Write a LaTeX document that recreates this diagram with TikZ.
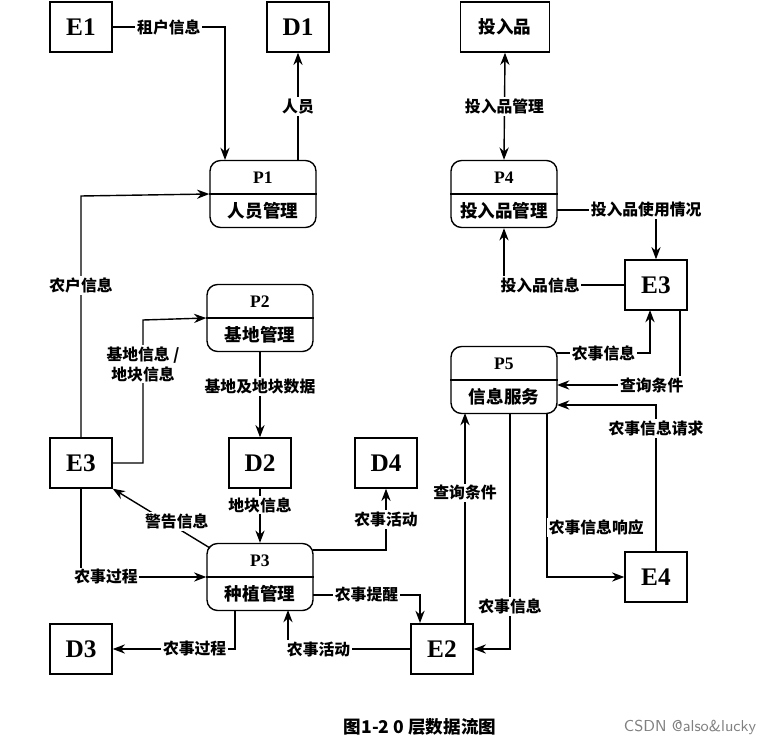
\documentclass[tikz,border=0pt]{standalone}
\usepackage{fontspec}
\setmainfont{Liberation Serif}
\newfontfamily\cjk{Noto Sans CJK SC}
\usetikzlibrary{arrows.meta}
\tikzset{
	ent/.style={draw, thick, minimum width=1.24cm, minimum height=1cm, font=\Large\bfseries},
	proc/.style={draw, thick, rounded corners=6pt, minimum width=2.12cm, minimum height=1.34cm},
	flow/.style={thick, -{Stealth[length=7pt]}},
	lbl/.style={fill=white, inner sep=1pt, font=\cjk\bfseries\small}
}
\newcommand{\proc}[4]{% name, x, y, title
	\node[proc] (#1) at (#2,#3) {};
	\draw[thick] (#1.west) -- (#1.east);
	\node[font=\bfseries] at ([yshift=0.33cm]#1.center) {#1};
	\node[font=\cjk\bfseries] at ([yshift=-0.33cm]#1.center) {#4};
}
\begin{document}
\begin{tikzpicture}[x=0.02cm, y=-0.02cm]
	\useasboundingbox (0,0) rectangle (757,743);
	% entities and stores
	\node[ent] (E1) at (81,27) {E1};
	\node[ent] (D1) at (298,27) {D1};
	\node[ent, minimum width=1.78cm, font=\cjk\bfseries] (IN) at (505,27) {投入品};
	\node[ent] (E3r) at (656,285) {E3};
	\node[ent] (E3l) at (81,463) {E3};
	\node[ent] (D2) at (260,463) {D2};
	\node[ent] (D4) at (386,463) {D4};
	\node[ent] (E4) at (656,577) {E4};
	\node[ent] (D3) at (81,649) {D3};
	\node[ent] (E2) at (442,649) {E2};
	% processes
	\proc{P1}{263}{194}{人员管理}
	\proc{P4}{504}{194}{投入品管理}
	\proc{P2}{260}{318}{基地管理}
	\proc{P5}{504}{380}{信息服务}
	\proc{P3}{260}{577}{种植管理}
	% flows
	\draw[flow] (E1.east) -- node[lbl] {租户信息} (225,27) -- (225,160);
	\draw[flow] (298,160) -- node[lbl] {人员} (D1.south);
	\draw[flow] (E3l.north) -- node[lbl, pos=0.63] {农户信息} (81,196) -- (P1.west);
	\draw[flow] (E3l.east) -- (143,463) -- node[lbl, pos=0.69, align=center] {基地信息 /\\地块信息} (143,320) -- (P2.west);
	\draw[flow] (P2.south) -- node[lbl, pos=0.4] {基地及地块数据} (D2.north);
	\draw[flow] (D2.south) -- node[lbl, pos=0.3] {地块信息} (P3.north);
	\draw[flow] (210,548) -- node[lbl, pos=0.45, xshift=6pt] {警告信息} (E3l.south east);
	\draw[flow] (E3l.south) -- (81,577) -- node[lbl, pos=0.2] {农事过程} (P3.west);
	\draw[flow] (313,550) -- (386,550) -- node[lbl] {农事活动} (D4.south);
	\draw[flow] (313,595) -- node[lbl] {农事提醒} (420,595) -- (420,623);
	\draw[flow] (235,610) -- (235,649) -- node[lbl, pos=0.33] {农事过程} (D3.east);
	\draw[flow] (E2.west) -- node[lbl, pos=0.75] {农事活动} (288,649) -- (288,610);
	\draw[flow] (465,623) -- node[lbl, pos=0.62] {查询条件} (465,413);
	\draw[flow] (510,413) -- node[lbl, pos=0.82] {农事信息} (510,649) -- (E2.east);
	\draw[flow] (547,413) -- node[lbl, pos=0.7, xshift=28pt] {农事信息响应} (547,577) -- (E4.west);
	\draw[flow] (E4.north) -- node[lbl, pos=0.84] {农事信息请求} (656,405) -- (557,405);
	\draw[flow] (680,310) -- (680,385) -- node[lbl, pos=0.23] {查询条件} (557,385);
	\draw[flow] (557,353) -- node[lbl] {农事信息} (650,353) -- (650,310);
	\draw[flow] (557,210) -- node[lbl, pos=0.9] {投入品使用情况} (656,210) -- (E3r.north);
	\draw[flow] (E3r.west) -- node[lbl, pos=0.7] {投入品信息} (504,285) -- (P4.south);
	\draw[thick, {Stealth[length=7pt]}-{Stealth[length=7pt]}] (IN.south) -- node[lbl] {投入品管理} (P4.north);
	% caption
	\node[font=\cjk\bfseries] (cap) at (420,727) {图1-2 0 层数据流图};
	\node[font=\sffamily\small, text=gray] (wm) at (690,727) {CSDN @also\&lucky};
\end{tikzpicture}
\end{document}
